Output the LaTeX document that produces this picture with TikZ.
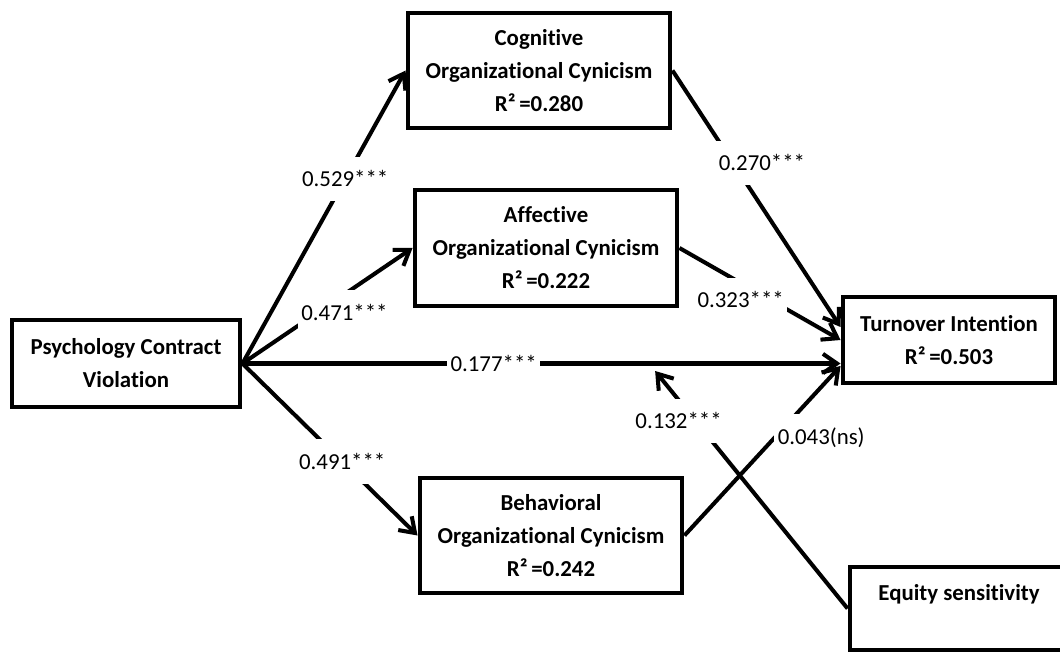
\documentclass[tikz,border=0pt]{standalone}
\usepackage{fontspec}
\setmainfont{Carlito}[Ligatures=NoCommon]
\usetikzlibrary{arrows.meta,calc}
\begin{document}
\begin{tikzpicture}[
	box/.style={rectangle,draw,line width=2.8pt,align=center,inner sep=0pt,
		font=\fontsize{13}{18.8}\selectfont\bfseries,minimum width=5.24cm,minimum height=2.3cm},
	arr/.style={line width=2.3pt,-{Straight Barb[length=8pt,width=11pt]}},
	lbl/.style={fill=white,inner xsep=2pt,inner ysep=8pt,font=\fontsize{13}{15}\selectfont}]
	\useasboundingbox (0,0) rectangle (21.2,-13.06);
	
	\node (pcv) at (2.52,-7.27) [box,minimum width=4.56cm,minimum height=1.74cm] {Psychology Contract\\Violation};
	\node (cog) at (10.78,-1.41) [box] {Cognitive\\Organizational Cynicism\\R²\,=0.280};
	\node (aff) at (10.92,-4.96) [box,minimum height=2.32cm] {Affective\\Organizational Cynicism\\R²\,=0.222};
	\node (beh) at (11.02,-10.71) [box] {Behavioral\\Organizational Cynicism\\R²\,=0.242};
	\node (ti) at (18.98,-6.80) [box,minimum width=4.24cm,minimum height=1.72cm] {Turnover Intention\\R²\,=0.503};
	\node (eq) at (19.18,-12.17) [box,minimum width=4.36cm,minimum height=1.66cm] {Equity sensitivity\\\mbox{}};
	
	\draw[arr] (pcv.east) -- node[lbl,pos=0.63] {0.529***} (cog.west);
	\draw[arr] (pcv.east) -- node[lbl,pos=0.6,yshift=-0.36cm] {0.471***} (aff.west);
	\draw[arr] (pcv.east) -- node[lbl,pos=0.42] {0.177***} (pcv.east -| ti.west);
	\draw[arr] (pcv.east) -- node[lbl,pos=0.57] {0.491***} (beh.west);
	
	\draw[arr] (cog.east) -- node[lbl,pos=0.36,xshift=0.58cm] {0.270***} ([yshift=0.26cm]ti.west);
	\draw[arr] (aff.east) -- node[lbl,pos=0.38,yshift=-0.34cm] {0.323***} (ti.west);
	\draw[arr] (beh.east) -- node[lbl,pos=0.575,xshift=0.94cm] {0.043(ns)} ([yshift=-0.52cm]ti.west);
	
	% moderator
	\coordinate (mod) at ($(pcv.east)!0.69!(pcv.east -| ti.west)+(0,-0.15)$);
	\draw[arr] (eq.west) -- node[lbl,pos=0.79,xshift=-0.34cm] {0.132***} (mod);
\end{tikzpicture}
\end{document}
